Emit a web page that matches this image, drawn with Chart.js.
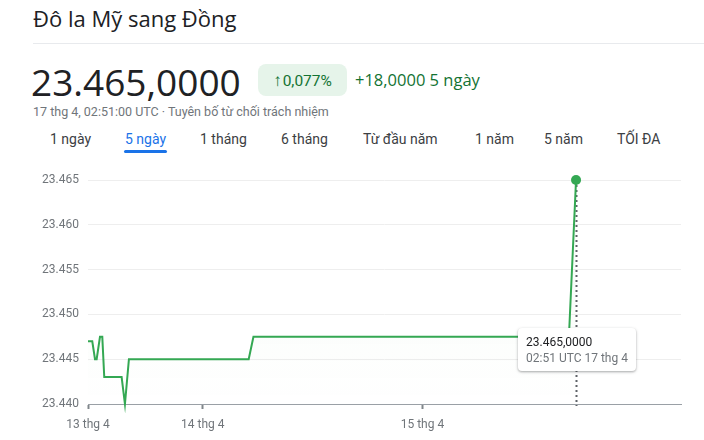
<!DOCTYPE html>
<html>
<head>
<meta charset="utf-8">
<script src="https://cdn.jsdelivr.net/npm/chart.js@4"></script>
<style>
  html, body { margin:0; padding:0; background:#fff; }
  body { width:704px; height:440px; position:relative; overflow:hidden; font-family: Roboto, Arial, sans-serif; }
  .abs { position:absolute; white-space:nowrap; }
  #title { left:33px; top:3px; font-family:"Open Sans", sans-serif; font-size:22px; color:#202124; }
  #rule { left:33px; top:43px; width:671px; height:1px; background:#e8eaed; }
  #price { left:31px; top:56px; font-family:"Open Sans", sans-serif; font-size:37px; color:#202124; }
  #badge { left:258px; top:64px; width:89px; height:32px; border-radius:8px; background:#e6f4ea; color:#137333; font-size:15.5px; line-height:32px; text-align:center; }
  #badge b { font-weight:700; font-size:17px; margin-right:1px; }
  #chg { left:355px; top:68px; font-family:"Open Sans", sans-serif; font-size:16.5px; color:#137333; font-weight:500; }
  #sub { left:33px; top:104px; font-size:12.5px; color:#70757a; }
  .tab { top:131px; font-size:14px; color:#3c4043; }
  .tab.on { color:#1a73e8; }
  #uline { left:124px; top:150px; width:43px; height:3px; border-radius:2px; background:#1a73e8; }
  #wrap { left:0; top:160px; width:704px; height:280px; }
  #tip { background:#fff; border-radius:4px; box-shadow:0 1px 3px rgba(60,64,67,0.35), 0 1px 2px rgba(60,64,67,0.15); padding:6px 8px 5px 8px; font-size:12px; line-height:16px; }
  #tip .v { color:#202124; }
  #tip .t { color:#70757a; }
</style>
</head>
<body>
<div id="title" class="abs">Đô la Mỹ sang Đồng</div>
<div id="rule" class="abs"></div>
<div id="price" class="abs">23.465,0000</div>
<div id="badge" class="abs"><b>↑</b>0,077%</div>
<div id="chg" class="abs">+18,0000 5 ngày</div>
<div id="sub" class="abs">17 thg 4, 02:51:00 UTC · Tuyên bố từ chối trách nhiệm</div>
<div class="abs tab" style="left:50px">1 ngày</div>
<div class="abs tab on" style="left:125px">5 ngày</div>
<div class="abs tab" style="left:200px">1 tháng</div>
<div class="abs tab" style="left:281px">6 tháng</div>
<div class="abs tab" style="left:363px">Từ đầu năm</div>
<div class="abs tab" style="left:475px">1 năm</div>
<div class="abs tab" style="left:544px">5 năm</div>
<div class="abs tab" style="left:617px">TỐI ĐA</div>
<div id="uline" class="abs"></div>
<div id="wrap" class="abs"><canvas id="c" width="704" height="280"></canvas></div>
<div id="tip" class="abs"><div class="v">23.465,0000</div><div class="t">02:51 UTC 17 thg 4</div></div>
<script>
// Trading-time position (0 = start of 13 thg 4, 100 = right end of the axis)
const times = [0, 0.72, 1.18, 1.46, 2.02, 2.41, 2.74, 5.67, 6.23, 6.90, 27.1, 27.9, 81.1, 82.3];
// USD -> VND rate
const rates = [23447, 23447, 23445, 23445, 23447.5, 23447.5, 23443, 23443, 23440, 23445, 23445, 23447.5, 23447.5, 23465];
const xTickPositions = [0, 19.36, 56.4];
const xTickLabels = ['13 thg 4', '14 thg 4', '15 thg 4'];
const yTickValues = [23440, 23445, 23450, 23455, 23460, 23465];

function fmtThousands(v) {
  const k = Math.floor(v / 1000);
  const r = Math.round(v - k * 1000);
  return k + '.' + String(r).padStart(3, '0');
}

const lastIdx = rates.length - 1;

const crosshair = {
  id: 'crosshair',
  beforeDatasetsDraw(chart) {
    const {ctx, chartArea, scales} = chart;
    const x = scales.x.getPixelForValue(times[lastIdx]);
    ctx.save();
    ctx.strokeStyle = '#5f6368';
    ctx.lineWidth = 2;
    ctx.setLineDash([2, 3]);
    ctx.beginPath();
    ctx.moveTo(Math.round(x) + 0.5, chartArea.top);
    ctx.lineTo(Math.round(x) + 0.5, chartArea.bottom + 2);
    ctx.stroke();
    ctx.restore();
  },
  afterRender(chart) {
    const {chartArea, scales} = chart;
    const x = scales.x.getPixelForValue(times[lastIdx]);
    const tip = document.getElementById('tip');
    const w = tip.offsetWidth;
    tip.style.left = (x - w / 2 + 1) + 'px';
    tip.style.top = (160 + chartArea.bottom - 76) + 'px';
  }
};

const ctx = document.getElementById('c').getContext('2d');
const grad = ctx.createLinearGradient(0, 180 - 160, 0, 404 - 160);
grad.addColorStop(0, 'rgba(52,168,83,0.05)');
grad.addColorStop(1, 'rgba(52,168,83,0.0)');

new Chart(ctx, {
  type: 'line',
  data: {
    datasets: [{
      data: times.map((t, i) => ({x: t, y: rates[i]})),
      borderColor: '#34a853',
      borderWidth: 2,
      backgroundColor: grad,
      fill: 'origin',
      tension: 0,
      pointRadius: c => c.dataIndex === lastIdx ? 5 : 0,
      pointBackgroundColor: '#34a853',
      pointBorderWidth: 0,
      clip: false
    }]
  },
  options: {
    responsive: false,
    animation: false,
    devicePixelRatio: 1,
    events: [],
    layout: { padding: { top: 20, right: 23, bottom: 0, left: 0 } },
    plugins: { legend: { display: false }, tooltip: { enabled: false } },
    scales: {
      x: {
        type: 'linear',
        min: 0, max: 100,
        afterBuildTicks: s => { s.ticks = xTickPositions.map(v => ({value: v})); },
        afterFit: s => { s.height = 36; },
        ticks: {
          autoSkip: false, maxRotation: 0, padding: 9,
          color: '#70757a', font: { family: 'Roboto, Arial, sans-serif', size: 12 },
          callback: (v, i) => xTickLabels[i]
        },
        grid: { drawOnChartArea: false, drawTicks: true, tickLength: 5, tickWidth: 2, color: '#80868b' },
        border: { display: true, color: '#9aa0a6', width: 1 }
      },
      y: {
        min: 23440, max: 23465,
        afterBuildTicks: s => { s.ticks = yTickValues.map(v => ({value: v})); },
        afterFit: s => { s.width = 88; },
        ticks: {
          padding: 9, color: '#70757a', font: { family: 'Roboto, Arial, sans-serif', size: 12 },
          callback: v => fmtThousands(v)
        },
        grid: { drawTicks: false, color: '#eeeeee', lineWidth: 1 },
        border: { display: false }
      }
    }
  },
  plugins: [crosshair]
});
</script>
</body>
</html>
